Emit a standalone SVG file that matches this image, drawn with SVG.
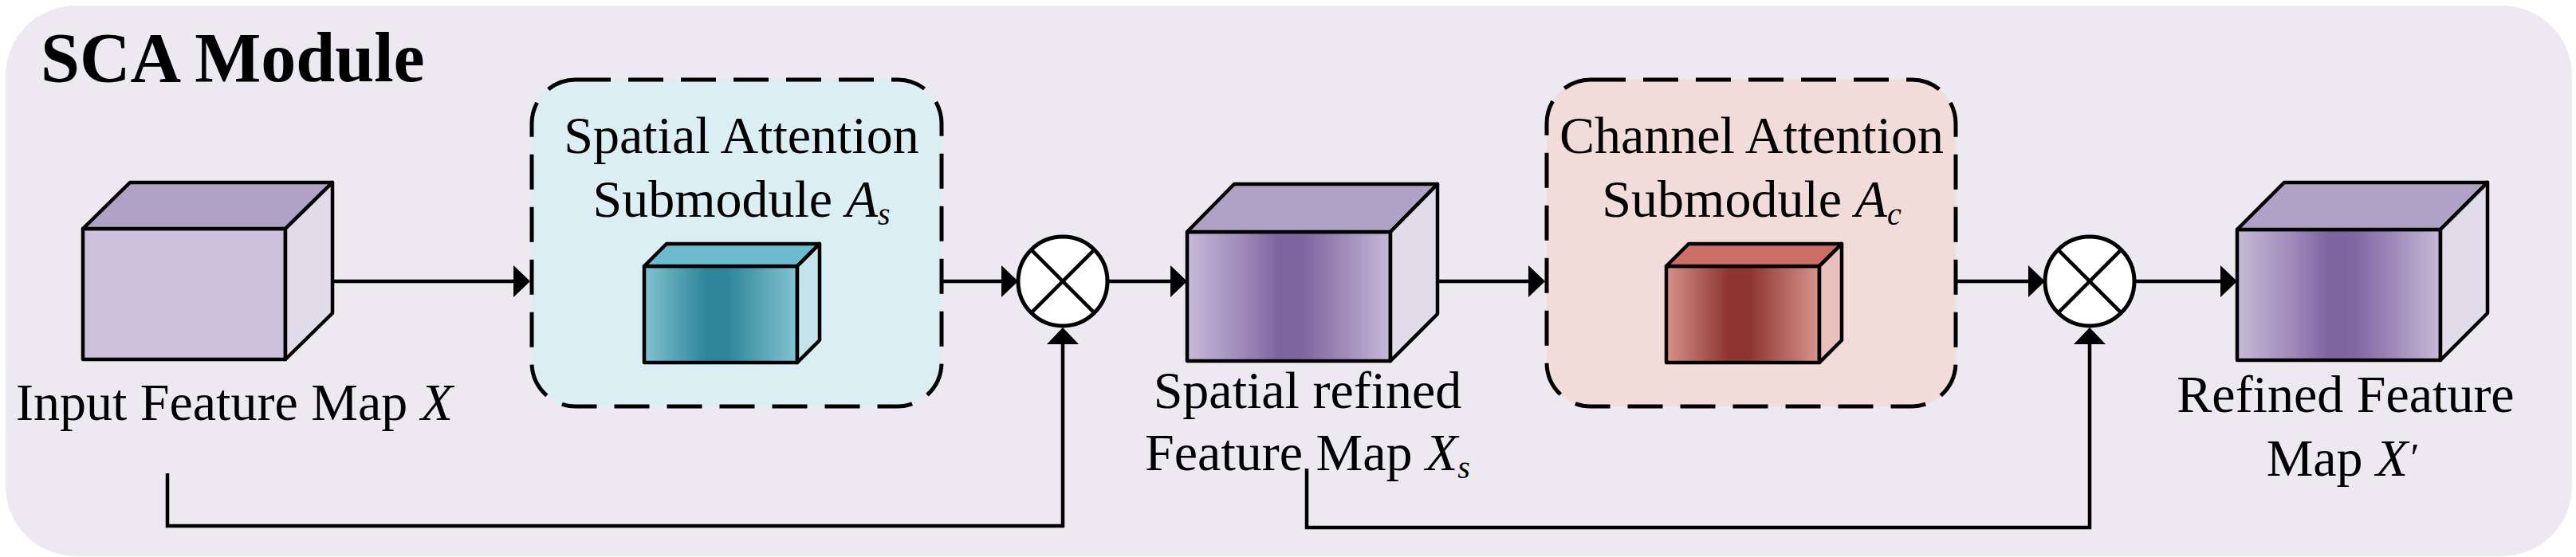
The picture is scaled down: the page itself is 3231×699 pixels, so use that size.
<svg xmlns="http://www.w3.org/2000/svg" width="3231" height="699" viewBox="0 0 3231 699">
<style>
.t{font-family:"Liberation Serif","Times New Roman",serif;font-size:66px;fill:#000}
.it{font-style:italic}
.title{font-family:"Liberation Serif","Times New Roman",serif;font-size:88px;font-weight:bold;fill:#000}
.edge{stroke:#000;stroke-width:4.5;stroke-linejoin:round}
.conn{fill:none;stroke:#000;stroke-width:4.5;stroke-linejoin:miter}
.dash{stroke:#000;stroke-width:5;stroke-dasharray:44 22}
.op{fill:#fff;stroke:#000;stroke-width:5}
.opx{stroke:#000;stroke-width:4.5}
</style>
<defs>
<marker id="ah" markerUnits="userSpaceOnUse" markerWidth="21" markerHeight="40" refX="6" refY="20" orient="auto">
<path d="M0,0 L21,20 L0,40 z" fill="#000"/>
</marker>
<linearGradient id="gPur" x1="0" y1="0" x2="1" y2="0">
<stop offset="0" stop-color="#C7BAD7"/>
<stop offset="0.3" stop-color="#9A84B6"/>
<stop offset="0.45" stop-color="#7D65A0"/>
<stop offset="0.57" stop-color="#7E66A1"/>
<stop offset="0.78" stop-color="#A08CBA"/>
<stop offset="1" stop-color="#C7BAD7"/>
</linearGradient>
<linearGradient id="gTeal" x1="0" y1="0" x2="1" y2="0">
<stop offset="0" stop-color="#82C2D0"/>
<stop offset="0.4" stop-color="#2F869A"/>
<stop offset="0.55" stop-color="#2F869A"/>
<stop offset="1" stop-color="#84C4D2"/>
</linearGradient>
<linearGradient id="gRed" x1="0" y1="0" x2="1" y2="0">
<stop offset="0" stop-color="#D6928C"/>
<stop offset="0.4" stop-color="#8F3630"/>
<stop offset="0.55" stop-color="#8F3630"/>
<stop offset="1" stop-color="#D8958F"/>
</linearGradient>
</defs>

<g id="module">
<rect x="7" y="7" width="3219" height="691" rx="88" ry="88" fill="#ECE9F1"/>
<text class="title" x="51" y="102">SCA Module</text>
</g>

<g id="input-feature-map">
<polygon class="edge" points="104,287 358,287 358,451 104,451" fill="#CBC1DA"/>
<polygon class="edge" points="104,287 163,229 417,229 358,287" fill="#B0A2C6"/>
<polygon class="edge" points="358,287 417,229 417,393 358,451" fill="#E0DCEA"/>
<text class="t" x="20" y="527">Input Feature Map <tspan class="it">X</tspan></text>
</g>

<g id="spatial-attention">
<rect class="dash" x="667" y="100" width="514" height="410" rx="55" ry="55" fill="#DBEEF3"/>
<text class="t" x="930" y="192" text-anchor="middle">Spatial Attention</text>
<text class="t" x="930" y="272" text-anchor="middle">Submodule <tspan class="it">A</tspan><tspan class="it" font-size="40" dy="10">s</tspan></text>
<polygon class="edge" points="808,334 1000,334 1000,455 808,455" fill="url(#gTeal)"/>
<polygon class="edge" points="808,334 836,306 1028,306 1000,334" fill="#6BBACE"/>
<polygon class="edge" points="1000,334 1028,306 1028,427 1000,455" fill="#C3E4EC"/>
</g>

<g id="mult1">
<circle class="op" cx="1333" cy="353" r="56"/>
<line class="opx" x1="1293.4" y1="313.4" x2="1372.6" y2="392.6"/>
<line class="opx" x1="1372.6" y1="313.4" x2="1293.4" y2="392.6"/>
</g>

<g id="spatial-refined-map">
<polygon class="edge" points="1489,291 1744,291 1744,453 1489,453" fill="url(#gPur)"/>
<polygon class="edge" points="1489,291 1548,231 1803,231 1744,291" fill="#B0A2C6"/>
<polygon class="edge" points="1744,291 1803,231 1803,394 1744,453" fill="#E0DCEA"/>
<text class="t" x="1640" y="512" text-anchor="middle">Spatial refined</text>
<text class="t" x="1640" y="590" text-anchor="middle">Feature Map <tspan class="it">X</tspan><tspan class="it" font-size="40" dy="10">s</tspan></text>
</g>

<g id="channel-attention">
<rect class="dash" x="1940" y="100" width="513" height="410" rx="55" ry="55" fill="#F2DCDA"/>
<text class="t" x="2197" y="192" text-anchor="middle">Channel Attention</text>
<text class="t" x="2197" y="272" text-anchor="middle">Submodule <tspan class="it">A</tspan><tspan class="it" font-size="40" dy="10">c</tspan></text>
<polygon class="edge" points="2090,334 2282,334 2282,455 2090,455" fill="url(#gRed)"/>
<polygon class="edge" points="2090,334 2118,306 2310,306 2282,334" fill="#CB6F67"/>
<polygon class="edge" points="2282,334 2310,306 2310,427 2282,455" fill="#E8C1BF"/>
</g>

<g id="mult2">
<circle class="op" cx="2621" cy="353" r="56"/>
<line class="opx" x1="2581.4" y1="313.4" x2="2660.6" y2="392.6"/>
<line class="opx" x1="2660.6" y1="313.4" x2="2581.4" y2="392.6"/>
</g>

<g id="refined-feature-map">
<polygon class="edge" points="2806,288 3061,288 3061,452 2806,452" fill="url(#gPur)"/>
<polygon class="edge" points="2806,288 2865,229 3120,229 3061,288" fill="#B0A2C6"/>
<polygon class="edge" points="3061,288 3120,229 3120,393 3061,452" fill="#E0DCEA"/>
<text class="t" x="2942" y="517" text-anchor="middle">Refined Feature</text>
<text class="t" x="2937" y="597" text-anchor="middle">Map <tspan class="it">X</tspan><tspan class="it" font-size="50" dy="-6">′</tspan></text>
</g>

<g id="connectors">
<path class="conn" d="M417,353 H650" marker-end="url(#ah)"/>
<path class="conn" d="M1181,353 H1262" marker-end="url(#ah)"/>
<path class="conn" d="M1389,353 H1474" marker-end="url(#ah)"/>
<path class="conn" d="M1803,353 H1923" marker-end="url(#ah)"/>
<path class="conn" d="M2453,353 H2550" marker-end="url(#ah)"/>
<path class="conn" d="M2677,353 H2791" marker-end="url(#ah)"/>
<path class="conn" d="M210,594 V660 H1333 V426" marker-end="url(#ah)"/>
<path class="conn" d="M1639,588 V662 H2621 V426" marker-end="url(#ah)"/>
</g>
</svg>
